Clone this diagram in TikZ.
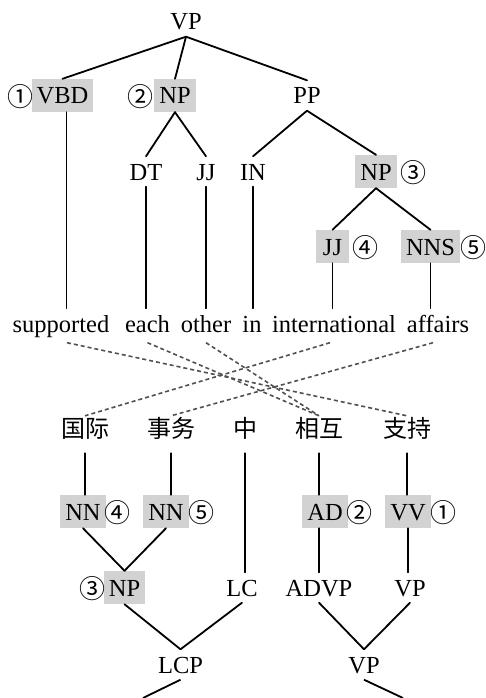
\documentclass[tikz,border=0pt]{standalone}
\usepackage{fontspec}
\setmainfont{Liberation Serif}
\newfontfamily\cjkfont{Noto Sans CJK SC}
\newfontfamily\circfont{Noto Sans CJK SC}
\definecolor{boxgray}{RGB}{210,210,210}
\definecolor{dashgray}{RGB}{80,80,80}
\begin{document}
\begin{tikzpicture}[x=1pt,y=-1pt,
  plainlab/.style={font=\fontsize{24.5}{28}\selectfont, text height=19pt, text depth=2pt, inner xsep=2pt, inner ysep=4.5pt, anchor=base},
  boxlab/.style={plainlab, fill=boxgray, inner xsep=5pt, inner ysep=6pt, minimum width=33pt},
  wordlab/.style={plainlab, text depth=6pt},
  zhlab/.style={font=\cjkfont\fontsize{24}{28}\selectfont, anchor=base, inner sep=0pt, text height=21pt, text depth=16pt},
  numlab/.style={font=\circfont\fontsize{26}{28}\selectfont, inner sep=0pt, anchor=center},
  trlink/.style={line width=1.8pt, line cap=round},
  alink/.style={draw=dashgray, line width=1.6pt, dash pattern=on 4pt off 3pt}
]
\useasboundingbox (0,0) rectangle (486,698);

% ---------- English tree ----------
\node[plainlab] (vp) at (186,30) {VP};
\node[boxlab] (vbd) at (62.5,104) {VBD};
\node[boxlab] (np) at (175,104) {NP};
\node[plainlab] (pp) at (307,104) {PP};
\node[plainlab] (dt) at (146,180) {DT};
\node[plainlab] (jj) at (206,180) {JJ};
\node[plainlab] (in) at (253,180) {IN};
\node[boxlab] (npb) at (376,180) {NP};
\node[boxlab] (jjb) at (332.5,255) {JJ};
\node[boxlab] (nns) at (430.5,255) {NNS};

\node[numlab] (n1a) at (20.5,96.5) {①};
\node[numlab] (n2a) at (140.5,96.5) {②};
\node[numlab] (n3a) at (413.5,172.5) {③};
\node[numlab] (n4a) at (365,247.5) {④};
\node[numlab] (n5a) at (473,247.5) {⑤};

\node[wordlab] (w1) at (61,332) {supported};
\node[wordlab] (w2) at (147.5,332) {each};
\node[wordlab] (w3) at (206,332) {other};
\node[wordlab] (w4) at (252,332) {in};
\node[wordlab] (w5) at (334,332) {international};
\node[wordlab] (w6) at (438,332) {affairs};

\draw[trlink] (vp.south) -- (vbd.north);
\draw[trlink] (vp.south) -- (np.north);
\draw[trlink] (vp.south) -- (pp.north);
\draw[trlink] (np.south) -- (dt.north);
\draw[trlink] (np.south) -- (jj.north);
\draw[trlink] (pp.south) -- (in.north);
\draw[trlink] (pp.south) -- (npb.north);
\draw[trlink] (npb.south) -- (jjb.north);
\draw[trlink] (npb.south) -- (nns.north);
\draw[trlink] ([xshift=4pt]vbd.south) -- ([xshift=4pt]vbd.south |- w1.north);
\draw[trlink] (dt.south) -- (dt.south |- w2.north);
\draw[trlink] (jj.south) -- (jj.south |- w3.north);
\draw[trlink] (in.south) -- (in.south |- w4.north);
\draw[trlink] (jjb.south) -- (jjb.south |- w5.north);
\draw[trlink] (nns.south) -- (nns.south |- w6.north);

% ---------- Chinese tree ----------
\node[zhlab] (z1) at (85,437) {国际};
\node[zhlab] (z2) at (171,437) {事务};
\node[zhlab] (z3) at (245,437) {中};
\node[zhlab] (z4) at (319,437) {相互};
\node[zhlab] (z5) at (407,437) {支持};

\node[boxlab] (nn4) at (83,520) {NN};
\node[boxlab] (nn5) at (166,520) {NN};
\node[boxlab] (ad) at (325,520) {AD};
\node[boxlab] (vv) at (408,520) {VV};
\node[numlab] (n4b) at (117.5,512.5) {④};
\node[numlab] (n5b) at (201.5,512.5) {⑤};
\node[numlab] (n2b) at (359.5,512.5) {②};
\node[numlab] (n1b) at (443,512.5) {①};

\node[boxlab] (npc) at (124.5,596) {NP};
\node[numlab] (n3b) at (92,588.5) {③};
\node[plainlab] (lc) at (242,596) {LC};
\node[plainlab] (advp) at (319,596) {ADVP};
\node[plainlab] (vpb) at (410,596) {VP};
\node[plainlab] (lcp) at (180.5,673) {LCP};
\node[plainlab] (vpc) at (364,673) {VP};
\coordinate (lcpend) at (143,698);
\coordinate (vpend) at (403,698);

\draw[trlink] (z1.south) -- (z1.south |- nn4.north);
\draw[trlink] (z2.south) -- (z2.south |- nn5.north);
\draw[trlink] (z3.south) -- (z3.south |- lc.north);
\draw[trlink] (z4.south) -- (z4.south |- ad.north);
\draw[trlink] (z4.south |- ad.south) -- (z4.south |- advp.north);
\draw[trlink] (z5.south) -- (z5.south |- vv.north);
\draw[trlink] (vv.south) -- (vv.south |- vpb.north);
\draw[trlink] (nn4.south) -- (npc.north);
\draw[trlink] (nn5.south) -- (npc.north);
\draw[trlink] (npc.south) -- (lcp.north);
\draw[trlink] (lc.south) -- (lcp.north);
\draw[trlink] (advp.south) -- (vpc.north);
\draw[trlink] (vpb.south) -- (vpc.north);
\draw[line width=1.8pt] (lcp.south) -- (lcpend);
\draw[line width=1.8pt] (vpc.south) -- (vpend);

% ---------- alignments ----------
\draw[alink] ([xshift=6pt]w1.south) -- (z5.north);
\draw[alink] (w2.south) -- (z4.north);
\draw[alink] (w3.south) -- (z4.north);
\draw[alink] ([xshift=-4pt]w5.south) -- (z1.north);
\draw[alink] ([xshift=-5pt]w6.south) -- (z2.north);
\end{tikzpicture}
\end{document}
